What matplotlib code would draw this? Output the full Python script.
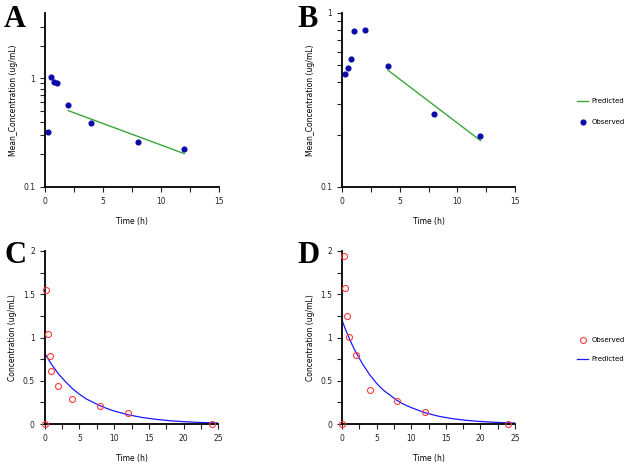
import matplotlib
matplotlib.use("Agg")
import matplotlib.pyplot as plt
from matplotlib.lines import Line2D
from matplotlib.ticker import MultipleLocator, FixedLocator, NullFormatter, FixedFormatter

# ---------------- data ----------------
time_a = [0.25, 0.5, 0.75, 1, 2, 4, 8, 12]
obs_a = [0.32, 1.04, 0.93, 0.90, 0.57, 0.385, 0.26, 0.222]
pred_a_t = [2, 12]
pred_a = [0.505, 0.203]

time_b = [0.25, 0.5, 0.75, 1, 2, 4, 8, 12]
obs_b = [0.445, 0.48, 0.545, 0.783, 0.795, 0.495, 0.264, 0.196]
pred_b_t = [4, 12]
pred_b = [0.468, 0.185]

time_cd = [0, 0.25, 0.5, 0.75, 1, 2, 4, 8, 12, 24]
obs_c = [0, 1.55, 1.04, 0.786, 0.617, 0.443, 0.29, 0.208, 0.123, 0]
obs_d = [0, 1.946, 1.576, 1.252, 1.01, 0.794, 0.393, 0.266, 0.139, 0]

pred_t = [0, 0.5, 1, 1.5, 2, 3, 4, 5, 6, 7, 8, 9, 10, 12, 14, 16, 18, 20, 22, 24, 25]
pred_c = [0.82, 0.755, 0.69, 0.635, 0.58, 0.49, 0.41, 0.345, 0.29, 0.25, 0.21,
          0.178, 0.15, 0.107, 0.076, 0.054, 0.038, 0.027, 0.019, 0.014, 0.012]
pred_d = [1.20, 1.095, 1.00, 0.91, 0.83, 0.69, 0.57, 0.47, 0.39, 0.33, 0.27,
          0.225, 0.19, 0.13, 0.089, 0.061, 0.042, 0.029, 0.020, 0.014, 0.011]

panel_labels = ["A", "B", "C", "D"]
ylabel_top = "Mean_Concentration (ug/mL)"
ylabel_bottom = "Concentration (ug/mL)"
xlabel = "Time (h)"

# ---------------- figure ----------------
W, H = 625, 466
fig = plt.figure(figsize=(W / 100, H / 100), dpi=100)
plt.rcParams['font.family'] = ['DejaVu Sans']

def rect(left, top, w, h):
    return [left / W, 1 - (top + h) / H, w / W, h / H]

axA = fig.add_axes(rect(45, 13, 174, 174))
axB = fig.add_axes(rect(342, 13, 173, 174))
axC = fig.add_axes(rect(44.5, 251, 174, 173))
axD = fig.add_axes(rect(342, 251, 173, 173))

FS = 5.5
blue_dot = "#0a0aa8"
green = "#3aa63a"
red = "#ff3b3b"
blue_line = "#1a1aff"

def style(ax):
    for s in ["top", "right"]:
        ax.spines[s].set_visible(False)
    for s in ["left", "bottom"]:
        ax.spines[s].set_linewidth(1.3)
        ax.spines[s].set_color("black")
    ax.tick_params(which="both", direction="out", labelsize=FS, colors="#222222",
                   width=0.8)
    ax.tick_params(which="major", length=3.5)
    ax.tick_params(which="minor", length=3.5)
    ax.xaxis.set_major_locator(MultipleLocator(5))
    ax.xaxis.set_minor_locator(MultipleLocator(2.5))
    ax.set_xlabel(xlabel, fontsize=FS, labelpad=8)

# Top panels (log scale)
for ax, t, o, pt, p, ytop in [(axA, time_a, obs_a, pred_a_t, pred_a, 4.0),
                              (axB, time_b, obs_b, pred_b_t, pred_b, 1.0)]:
    ax.plot(pt, p, color=green, lw=1.0)
    ax.plot(t, o, "o", color=blue_dot, ms=3.4, mec=blue_dot, clip_on=False)
    ax.set_yscale("log")
    ax.set_xlim(0, 15)
    ax.set_ylim(0.1, ytop)
    ax.yaxis.set_major_locator(FixedLocator([0.1, 1]))
    ax.yaxis.set_major_formatter(FixedFormatter(["0.1", "1"]))
    ax.yaxis.set_minor_locator(FixedLocator([0.2, 0.3, 0.4, 0.5, 0.6, 0.7, 0.8, 0.9, 2, 3]))
    ax.yaxis.set_minor_formatter(NullFormatter())
    ax.set_ylabel(ylabel_top, fontsize=FS, labelpad=4)
    style(ax)

# Bottom panels (linear)
for ax, o, p in [(axC, obs_c, pred_c), (axD, obs_d, pred_d)]:
    ax.plot(pred_t, p, color=blue_line, lw=0.9)
    ax.plot(time_cd, o, "o", mfc="none", mec=red, ms=4.3, mew=0.8, clip_on=False, zorder=5)
    ax.set_xlim(0, 25)
    ax.set_ylim(0, 2)
    ax.yaxis.set_minor_locator(MultipleLocator(0.25))
    ax.yaxis.set_major_locator(FixedLocator([0, 0.5, 1, 1.5, 2]))
    ax.yaxis.set_major_formatter(FixedFormatter(["0", "0.5", "1", "1.5", "2"]))
    ax.set_ylabel(ylabel_bottom, fontsize=FS, labelpad=4)
    style(ax)

# panel labels
for lab, x, y in [("A", 4, 27), ("B", 297, 27), ("C", 5, 263), ("D", 297, 263)]:
    fig.text(x / W, 1 - y / H, lab, fontsize=22, fontweight="bold",
             family="Liberation Serif", ha="left", va="baseline")

# legends
h1 = [Line2D([], [], color=green, lw=1.0),
      Line2D([], [], ls="none", marker="o", color=blue_dot, ms=3.4)]
fig.legend(h1, ["Predicted", "Observed"], loc="upper left",
           bbox_to_anchor=(577 / W, 1 - 98 / H), frameon=False, fontsize=5,
           handlelength=1.6, labelspacing=2.2, handletextpad=0.5, borderaxespad=0,
           borderpad=0)

h2 = [Line2D([], [], ls="none", marker="o", mfc="none", mec=red, ms=4.3, mew=0.8),
      Line2D([], [], color=blue_line, lw=0.9)]
fig.legend(h2, ["Observed", "Predicted"], loc="upper left",
           bbox_to_anchor=(577 / W, 1 - 337 / H), frameon=False, fontsize=5,
           handlelength=1.6, labelspacing=1.9, handletextpad=0.5, borderaxespad=0,
           borderpad=0)

fig.savefig("out.png", dpi=100)
